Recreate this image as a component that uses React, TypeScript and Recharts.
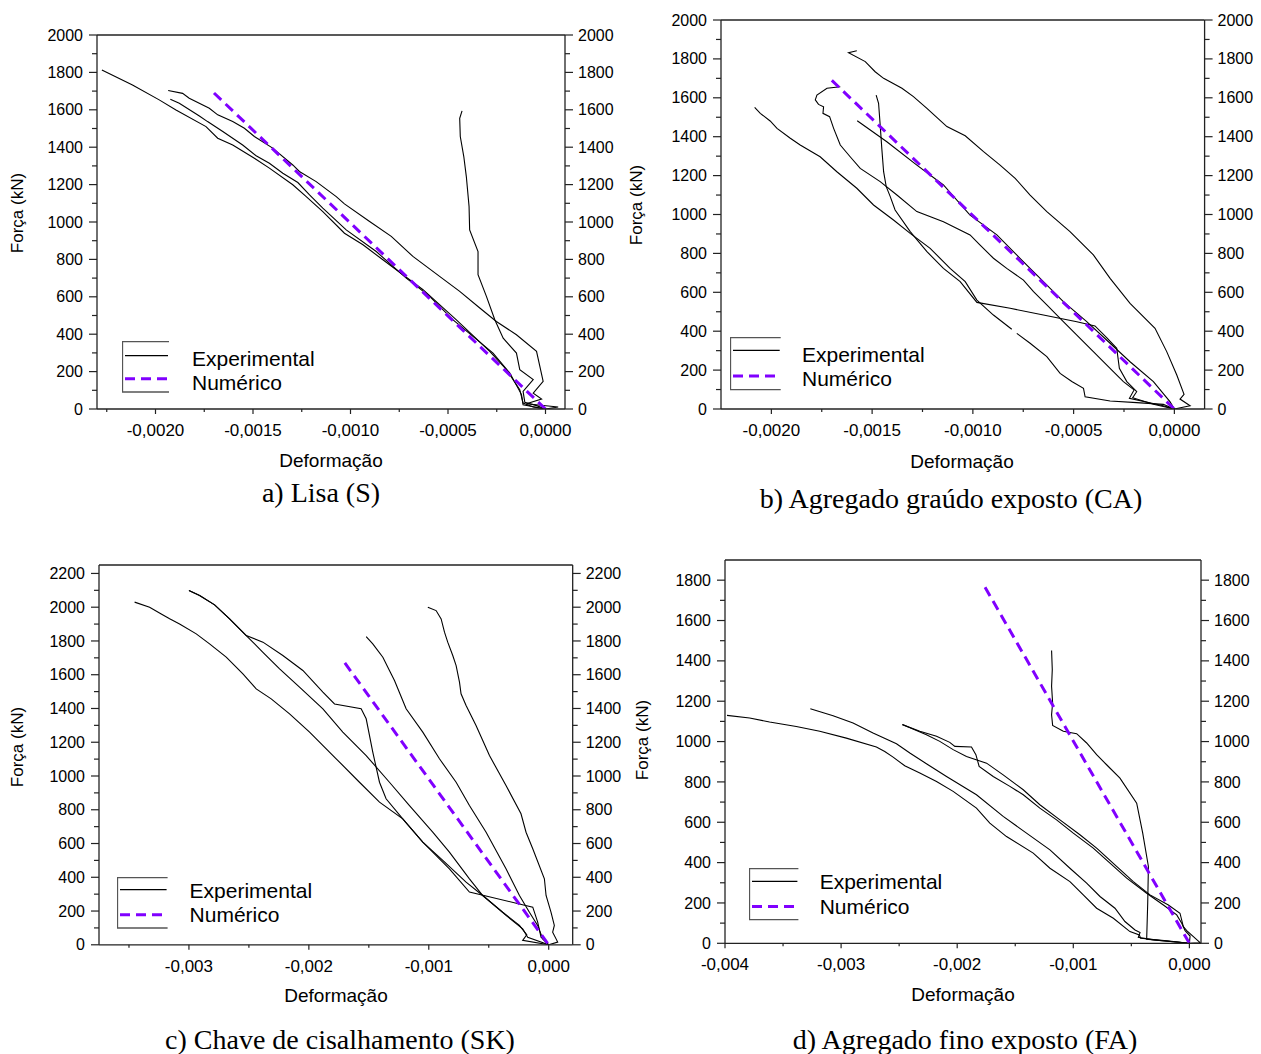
import React from 'react';
import { LineChart, Line, XAxis, YAxis, ReferenceLine, Legend } from 'recharts';

type Pt = [number, number];

const SANS = "'Liberation Sans', Arial, sans-serif";
const SERIF = "'Liberation Serif', 'Times New Roman', serif";
const PURPLE = '#8000ff';

// ---- a) Lisa (S) ----
const lisaExp1: Pt[] = [[-0.002275,1813],[-0.002118,1733],[-0.001981,1653],[-0.001895,1599],[-0.001741,1510],[-0.001681,1448],[-0.001604,1412],[-0.001493,1341],[-0.001416,1288],[-0.001296,1199],[-0.001227,1136],[-0.001142,1056],[-0.001031,940],[-0.000936,878],[-0.000834,798],[-0.000628,638],[-0.000457,477],[-0.000286,308],[-0.0002,210],[-0.000132,103],[-0.000115,32],[-0.000063,11],[0,0]];
const lisaExp2: Pt[] = [[-0.001935,1703],[-0.001861,1688],[-0.001827,1662],[-0.001724,1608],[-0.001681,1573],[-0.001604,1537],[-0.001544,1501],[-0.001493,1457],[-0.001399,1395],[-0.001296,1305],[-0.001262,1270],[-0.001176,1216],[-0.001073,1136],[-0.001031,1097],[-0.000902,1003],[-0.000791,923],[-0.00068,816],[-0.000543,709],[-0.00044,629],[-0.000337,540],[-0.000252,468],[-0.000149,397],[-0.000046,308],[-0.000012,148],[-0.000063,85],[-0.00002,53],[-0.000098,28],[0.000065,11],[0,0]];
const lisaExp3: Pt[] = [[-0.001924,1656],[-0.001878,1635],[-0.001775,1567],[-0.001733,1537],[-0.001655,1484],[-0.001553,1412],[-0.001484,1354],[-0.001416,1314],[-0.001347,1261],[-0.00127,1211],[-0.00121,1145],[-0.001142,1074],[-0.001022,958],[-0.000868,842],[-0.000714,700],[-0.000594,602],[-0.000474,477],[-0.000372,388],[-0.000269,299],[-0.000183,192],[-0.000123,77],[-0.000115,23],[0,0]];
const lisaExp4: Pt[] = [[-0.000428,1594],[-0.00044,1555],[-0.000437,1457],[-0.000419,1350],[-0.000406,1243],[-0.000392,1083],[-0.000389,958],[-0.000346,842],[-0.000346,718],[-0.000303,602],[-0.00026,477],[-0.000217,379],[-0.000149,299],[-0.000132,210],[-0.000063,157],[-0.000115,94],[-0.000106,36],[-0.000046,18],[0,0]];
const lisaNum: Pt[] = [[-0.0017,1690],[0,0]];

// ---- b) Agregado graúdo exposto (CA) ----
const caExp1: Pt[] = [[-0.001576,1842],[-0.001617,1832],[-0.001534,1786],[-0.001485,1734],[-0.001443,1700],[-0.001352,1649],[-0.001295,1606],[-0.001228,1546],[-0.001129,1452],[-0.001038,1405],[-0.000947,1323],[-0.000865,1254],[-0.00079,1186],[-0.000716,1100],[-0.000633,1015],[-0.000518,912],[-0.000402,792],[-0.000319,672],[-0.00022,543],[-0.000096,415],[-0.000038,295],[0.000012,175],[0.000048,75],[0.000028,51],[0.000078,17],[0,0]];
const caExp2a: Pt[] = [[-0.002083,1551],[-0.002055,1520],[-0.002006,1481],[-0.001972,1443],[-0.001906,1392],[-0.001857,1357],[-0.001758,1297],[-0.001675,1220],[-0.001576,1135],[-0.001493,1049],[-0.001394,972],[-0.001311,903],[-0.001212,826],[-0.001113,723],[-0.001038,655],[-0.00098,560],[-0.000898,483],[-0.000807,410]];
const caExp2b: Pt[] = [[-0.000782,389],[-0.000716,338],[-0.000633,269],[-0.000567,183],[-0.000509,141],[-0.000451,106],[-0.000443,63],[-0.000319,41],[-0.000187,33],[-0.000055,24],[0,0]];
const caExp3: Pt[] = [[-0.00148,1614],[-0.001468,1572],[-0.00146,1460],[-0.001452,1340],[-0.001443,1220],[-0.00143,1143],[-0.00141,1092],[-0.001386,1023],[-0.001311,912],[-0.001228,809],[-0.001146,723],[-0.001063,655],[-0.00098,548],[-0.000815,518],[-0.00065,483],[-0.000484,449],[-0.000394,427],[-0.000336,367],[-0.000286,312],[-0.000273,209],[-0.000236,141],[-0.000187,89],[-0.000207,58],[-0.000104,24],[0,0]];
const caExp4: Pt[] = [[-0.001658,1657],[-0.001724,1649],[-0.001774,1614],[-0.001782,1589],[-0.001766,1566],[-0.001741,1554],[-0.001744,1520],[-0.001711,1503],[-0.001691,1443],[-0.001658,1357],[-0.001609,1297],[-0.001559,1237],[-0.00146,1169],[-0.001377,1100],[-0.001278,1015],[-0.001146,963],[-0.001014,895],[-0.000964,843],[-0.000898,775],[-0.000832,723],[-0.000749,663],[-0.000699,603],[-0.000633,535],[-0.000551,449],[-0.000484,380],[-0.000402,295],[-0.000319,209],[-0.000253,141],[-0.0002,98],[-0.000223,55],[-0.000055,17],[0,0]];
const caExp5: Pt[] = [[-0.001574,1482],[-0.001427,1374],[-0.001278,1254],[-0.001146,1152],[-0.001014,997],[-0.000881,895],[-0.000766,775],[-0.000666,672],[-0.000551,552],[-0.000435,449],[-0.000319,338],[-0.00022,243],[-0.000104,141],[-0.000022,38],[0,0]];
const caNum: Pt[] = [[-0.0017,1690],[0,0]];

// ---- c) Chave de cisalhamento (SK) ----
const skExp1: Pt[] = [[-0.003453,2030],[-0.003328,2000],[-0.003231,1960],[-0.003161,1931],[-0.003078,1901],[-0.002939,1842],[-0.002828,1783],[-0.002689,1704],[-0.00255,1605],[-0.002439,1516],[-0.002314,1457],[-0.002161,1368],[-0.001994,1260],[-0.001772,1102],[-0.001578,963],[-0.001411,845],[-0.001217,746],[-0.00105,608],[-0.000883,500],[-0.000689,371],[-0.00055,292],[-0.000383,193],[-0.000244,115],[-0.000183,59],[-0.000217,26],[0,0]];
const skExp2: Pt[] = [[-0.003,2099],[-0.002911,2069],[-0.002786,2014],[-0.002661,1931],[-0.002522,1832],[-0.002383,1733],[-0.002244,1635],[-0.002078,1526],[-0.001883,1398],[-0.001717,1260],[-0.001522,1121],[-0.001328,963],[-0.001161,825],[-0.000967,667],[-0.000828,549],[-0.000661,391],[-0.00055,292],[-0.000356,174],[-0.000217,95],[-0.000175,45],[0,0]];
const skExp3: Pt[] = [[-0.003,2099],[-0.002911,2069],[-0.002786,2014],[-0.002661,1931],[-0.002522,1832],[-0.002383,1793],[-0.002217,1714],[-0.00205,1625],[-0.001883,1497],[-0.001786,1427],[-0.001564,1398],[-0.001522,1339],[-0.001467,1141],[-0.001411,963],[-0.001356,865],[-0.001217,746],[-0.00105,608],[-0.000828,450],[-0.000661,312],[-0.000133,223],[-0.000092,134],[-0.000064,45],[0,0]];
const skExp4: Pt[] = [[-0.001522,1826],[-0.001467,1783],[-0.001383,1704],[-0.001328,1625],[-0.001286,1566],[-0.001189,1398],[-0.00105,1260],[-0.000911,1102],[-0.000772,963],[-0.000661,825],[-0.000522,667],[-0.000356,450],[-0.000244,292],[-0.000161,193],[-0.000092,115],[-0.00005,36],[0,0]];
const skExp5: Pt[] = [[-0.001008,2000],[-0.000939,1980],[-0.000897,1931],[-0.000869,1852],[-0.000842,1793],[-0.0008,1714],[-0.000772,1654],[-0.000744,1556],[-0.000731,1487],[-0.000689,1418],[-0.000606,1299],[-0.000494,1121],[-0.000356,944],[-0.000231,776],[-0.000189,667],[-0.000133,569],[-0.000036,391],[-0.000022,292],[0.000019,193],[0.000047,115],[0.000033,75],[0.000075,16],[0,0]];
const skNum: Pt[] = [[-0.0017,1670],[0,0]];

// ---- d) Agregado fino exposto (FA) ----
const faExp1: Pt[] = [[-0.003983,1130],[-0.003788,1117],[-0.003616,1097],[-0.003386,1075],[-0.003184,1051],[-0.002955,1017],[-0.002696,973],[-0.002624,951],[-0.002552,923],[-0.002452,880],[-0.002322,844],[-0.002178,802],[-0.002035,753],[-0.001834,670],[-0.001719,596],[-0.001575,529],[-0.001345,447],[-0.001201,372],[-0.001029,306],[-0.000914,240],[-0.000799,174],[-0.000655,124],[-0.000512,58],[-0.000431,41],[-0.00042,25],[-0.000195,13],[0,0]];
const faExp2: Pt[] = [[-0.003265,1163],[-0.003069,1128],[-0.002897,1092],[-0.002725,1042],[-0.002523,989],[-0.002408,943],[-0.002265,890],[-0.002092,827],[-0.001834,736],[-0.001604,629],[-0.001403,546],[-0.001201,463],[-0.001029,372],[-0.000885,298],[-0.00077,232],[-0.000641,174],[-0.000555,108],[-0.000468,66],[-0.000425,53],[-0.00044,30],[-0.00031,17],[0,0]];
const faExp3: Pt[] = [[-0.002472,1084],[-0.002322,1051],[-0.002178,1026],[-0.002064,996],[-0.00202,976],[-0.001877,973],[-0.001839,935],[-0.001811,877],[-0.00169,827],[-0.001546,778],[-0.001431,736],[-0.001288,670],[-0.001144,612],[-0.001,546],[-0.000828,472],[-0.000684,397],[-0.00054,323],[-0.000368,248],[-0.000224,190],[-0.000109,141],[-0.000066,99],[-0.000037,63],[0.000006,36],[0,0]];
const faExp4: Pt[] = [[-0.002472,1084],[-0.002265,1034],[-0.00215,1001],[-0.002035,960],[-0.00192,926],[-0.001747,893],[-0.001604,835],[-0.001431,761],[-0.001288,687],[-0.001115,612],[-0.000943,538],[-0.000799,472],[-0.000627,381],[-0.000483,306],[-0.000339,240],[-0.000181,190],[-0.000081,149],[-0.000052,83],[-0.000023,63],[0.000092,3],[0,0]];
const faExp5: Pt[] = [[-0.001187,1451],[-0.001181,1357],[-0.001187,1274],[-0.001178,1191],[-0.001187,1133],[-0.001178,1080],[-0.001086,1051],[-0.000971,1039],[-0.000885,993],[-0.000799,935],[-0.000713,885],[-0.000598,819],[-0.000454,695],[-0.000402,546],[-0.000353,381],[-0.000359,199],[-0.000368,20],[0,0]];
const faNum: Pt[] = [[-0.00176,1765],[0,0]];

// ticks
const xMajorAB = [-0.002, -0.0015, -0.001, -0.0005, 0];
const xMinorA = [-0.00225, -0.00175, -0.00125, -0.00075, -0.00025];
const xMinorB = [-0.00175, -0.00125, -0.00075, -0.00025];
const xMajorC = [-0.003, -0.002, -0.001, 0];
const xMajorD = [-0.004, -0.003, -0.002, -0.001, 0];
const xMinorCD = [-0.0035, -0.0025, -0.0015, -0.0005];
const yMajor2000 = [0, 200, 400, 600, 800, 1000, 1200, 1400, 1600, 1800, 2000];
const yMinor2000 = [100, 300, 500, 700, 900, 1100, 1300, 1500, 1700, 1900];
const yMajor2200 = [...yMajor2000, 2200];
const yMinor2200 = [...yMinor2000, 2100];
const yMajor1800 = [0, 200, 400, 600, 800, 1000, 1200, 1400, 1600, 1800];
const yMinor1800 = [100, 300, 500, 700, 900, 1100, 1300, 1500, 1700];

const toRows = (pts: Pt[]) => pts.map(([x, y]) => ({ x, y }));
const isIn = (list: number[], v: number) => list.some((m) => Math.abs(m - v) < 1e-9);

interface LegendBox { x: number; y: number; w: number; h: number; l1: number; l2: number; tx: number; t1: number; t2: number }

interface PanelProps {
  plot: { x: number; y: number; w: number; h: number };
  xDomain: [number, number];
  yDomain: [number, number];
  xMajor: number[];
  xMinor: number[];
  decimals: number;
  yMajor: number[];
  yMinor: number[];
  exp: Pt[][];
  num: Pt[];
  legend: LegendBox;
  yTitle: [number, number];
  xTitle: [number, number];
  caption: { text: string; x: number; y: number };
}

function Panel(p: PanelProps) {
  const ml = 90, mt = 12, mr = 70, mb = 48;
  const left = p.plot.x - ml;
  const top = p.plot.y - mt;
  const fmt = (v: number) => v.toFixed(p.decimals).replace('.', ',');

  const xTick = (t: any) => {
    const major = isIn(p.xMajor, t.payload.value);
    return (
      <g>
        <line x1={t.x} y1={t.y} x2={t.x} y2={t.y + (major ? 5 : 3)} stroke="#222" strokeWidth={1.2} />
        {major && (
          <text x={t.x} y={t.y + 27} textAnchor="middle" fontSize={17} fontFamily={SANS} fill="#000">
            {fmt(t.payload.value)}
          </text>
        )}
      </g>
    );
  };
  const yTick = (side: 'l' | 'r') => (t: any) => {
    const major = isIn(p.yMajor, t.payload.value);
    const d = side === 'l' ? -1 : 1;
    return (
      <g>
        <line x1={t.x} y1={t.y} x2={t.x + d * (major ? 8 : 5)} y2={t.y} stroke="#222" strokeWidth={1.2} />
        {major && (
          <text x={t.x + d * (side === 'l' ? 14 : 13)} y={t.y} dy="0.35em" textAnchor={side === 'l' ? 'end' : 'start'} fontSize={16} fontFamily={SANS} fill="#000">
            {t.payload.value}
          </text>
        )}
      </g>
    );
  };

  const lg = p.legend;
  const legendContent = () => (
    <svg width={230} height={lg.h + 4} style={{ display: 'block' }}>
      <path d={`M${lg.w},0.5 H0.5 V${lg.h} H${lg.w}`} fill="none" stroke="#555" strokeWidth={1.3} />
      <line x1={3} x2={lg.w - 1} y1={lg.l1} y2={lg.l1} stroke="#000" strokeWidth={1.2} />
      <line x1={3} x2={lg.w - 1} y1={lg.l2} y2={lg.l2} stroke={PURPLE} strokeWidth={3} strokeDasharray="10 6" />
      <text x={lg.tx} y={lg.t1} dy="0.35em" fontSize={21} fontFamily={SANS} fill="#000">Experimental</text>
      <text x={lg.tx} y={lg.t2} dy="0.35em" fontSize={21} fontFamily={SANS} fill="#000">Numérico</text>
    </svg>
  );

  const textStyle: React.CSSProperties = { position: 'absolute', transform: 'translate(-50%, -50%)', whiteSpace: 'nowrap', color: '#000' };

  return (
    <>
      <div style={{ position: 'absolute', left, top }}>
        <LineChart width={p.plot.w + ml + mr} height={p.plot.h + mt + mb} margin={{ left: ml - 1, top: mt, right: mr - 1, bottom: mb - 1 }}>
          <XAxis
            dataKey="x"
            type="number"
            domain={p.xDomain}
            allowDataOverflow
            ticks={[...p.xMajor, ...p.xMinor]}
            interval={0}
            height={1}
            tickSize={0}
            tickMargin={0}
            tickLine={false}
            tick={xTick}
            axisLine={{ stroke: '#222', strokeWidth: 1.3 }}
          />
          <YAxis
            yAxisId="l"
            type="number"
            domain={p.yDomain}
            allowDataOverflow
            ticks={[...p.yMajor, ...p.yMinor]}
            interval={0}
            width={1}
            tickSize={0}
            tickMargin={0}
            tickLine={false}
            tick={yTick('l')}
            axisLine={{ stroke: '#222', strokeWidth: 1.3 }}
          />
          <YAxis
            yAxisId="r"
            orientation="right"
            type="number"
            domain={p.yDomain}
            allowDataOverflow
            ticks={[...p.yMajor, ...p.yMinor]}
            interval={0}
            width={1}
            tickSize={0}
            tickMargin={0}
            tickLine={false}
            tick={yTick('r')}
            axisLine={{ stroke: '#222', strokeWidth: 1.3 }}
          />
          <ReferenceLine yAxisId="l" y={p.yDomain[1]} stroke="#222" strokeWidth={1.3} />
          {p.exp.map((s, i) => (
            <Line
              key={i}
              yAxisId="l"
              data={toRows(s)}
              dataKey="y"
              type="linear"
              stroke="#000"
              strokeWidth={1.1}
              dot={false}
              activeDot={false}
              isAnimationActive={false}
              legendType="none"
            />
          ))}
          <Line
            yAxisId="l"
            data={toRows(p.num)}
            dataKey="y"
            type="linear"
            stroke={PURPLE}
            strokeWidth={3}
            strokeDasharray="10 6"
            dot={false}
            activeDot={false}
            isAnimationActive={false}
          />
          <Legend
            layout="horizontal"
            verticalAlign="middle"
            align="center"
            content={legendContent}
            wrapperStyle={{ left: lg.x - left, top: lg.y - top, width: 'auto', height: 'auto' }}
          />
        </LineChart>
      </div>
      <div style={{ ...textStyle, left: p.yTitle[0], top: p.yTitle[1], fontFamily: SANS, fontSize: 17, transform: 'translate(-50%, -50%) rotate(-90deg)' }}>
        Força (kN)
      </div>
      <div style={{ ...textStyle, left: p.xTitle[0], top: p.xTitle[1], fontFamily: SANS, fontSize: 19 }}>Deformação</div>
      <div style={{ ...textStyle, left: p.caption.x, top: p.caption.y, fontFamily: SERIF, fontSize: 28 }}>{p.caption.text}</div>
    </>
  );
}

export default function App() {
  return (
    <div style={{ position: 'absolute', left: 0, top: 0, width: 1261, height: 1054, background: '#fff', overflow: 'hidden' }}>
      <Panel
        plot={{ x: 97, y: 35, w: 468, h: 374 }}
        xDomain={[-0.0023, 0.0001]}
        yDomain={[0, 2000]}
        xMajor={xMajorAB}
        xMinor={xMinorA}
        decimals={4}
        yMajor={yMajor2000}
        yMinor={yMinor2000}
        exp={[lisaExp1, lisaExp2, lisaExp3, lisaExp4]}
        num={lisaNum}
        legend={{ x: 122, y: 341, w: 47, h: 51, l1: 14.7, l2: 37.7, tx: 70, t1: 18, t2: 42 }}
        yTitle={[18, 213]}
        xTitle={[331, 461]}
        caption={{ text: 'a) Lisa (S)', x: 321, y: 493 }}
      />
      <Panel
        plot={{ x: 720.7, y: 20, w: 483.6, h: 389 }}
        xDomain={[-0.00225, 0.00015]}
        yDomain={[0, 2000]}
        xMajor={xMajorAB}
        xMinor={xMinorB}
        decimals={4}
        yMajor={yMajor2000}
        yMinor={yMinor2000}
        exp={[caExp1, caExp2a, caExp2b, caExp3, caExp4, caExp5]}
        num={caNum}
        legend={{ x: 730, y: 336.7, w: 50.7, h: 52.6, l1: 13.3, l2: 39, tx: 72, t1: 17.3, t2: 41.3 }}
        yTitle={[637, 205]}
        xTitle={[962, 462]}
        caption={{ text: 'b) Agregado graúdo exposto (CA)', x: 951, y: 499 }}
      />
      <Panel
        plot={{ x: 99.3, y: 564.5, w: 473.7, h: 379.8 }}
        xDomain={[-0.00375, 0.0002]}
        yDomain={[0, 2250]}
        xMajor={xMajorC}
        xMinor={xMinorCD}
        decimals={3}
        yMajor={yMajor2200}
        yMinor={yMinor2200}
        exp={[skExp1, skExp2, skExp3, skExp4, skExp5]}
        num={skNum}
        legend={{ x: 116.7, y: 877.3, w: 50.6, h: 51, l1: 12.7, l2: 37.7, tx: 72.6, t1: 13.4, t2: 37.7 }}
        yTitle={[18, 747]}
        xTitle={[336, 996]}
        caption={{ text: 'c) Chave de cisalhamento (SK)', x: 340, y: 1040 }}
      />
      <Panel
        plot={{ x: 725, y: 560, w: 476, h: 383.3 }}
        xDomain={[-0.004, 0.0001]}
        yDomain={[0, 1900]}
        xMajor={xMajorD}
        xMinor={xMinorCD}
        decimals={3}
        yMajor={yMajor1800}
        yMinor={yMinor1800}
        exp={[faExp1, faExp2, faExp3, faExp4, faExp5]}
        num={faNum}
        legend={{ x: 749.3, y: 868.3, w: 49.4, h: 51.7, l1: 13.4, l2: 38.4, tx: 70.7, t1: 13.4, t2: 38.4 }}
        yTitle={[643, 740]}
        xTitle={[963, 995]}
        caption={{ text: 'd) Agregado fino exposto (FA)', x: 965, y: 1040 }}
      />
    </div>
  );
}
